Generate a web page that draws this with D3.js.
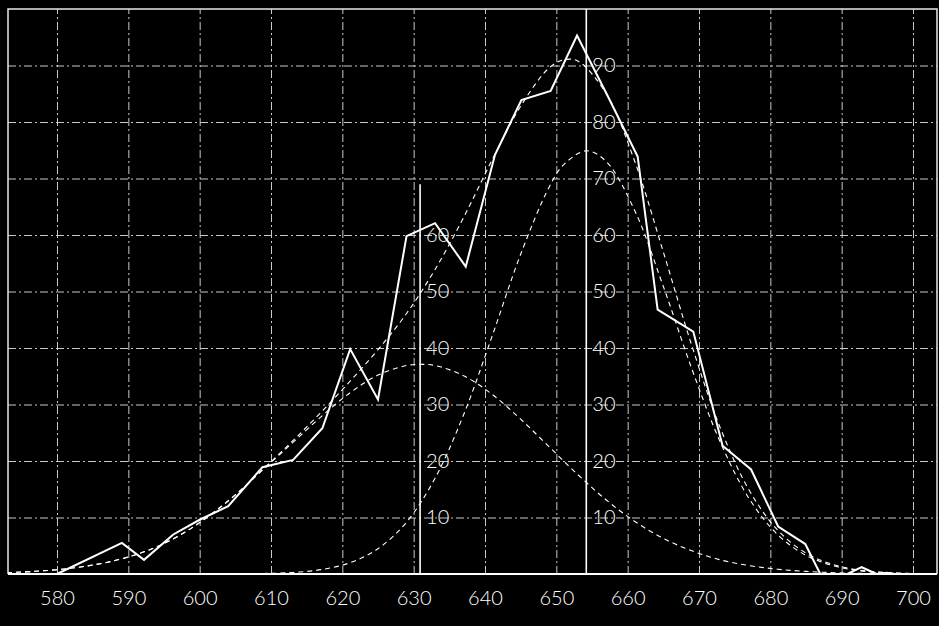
<!DOCTYPE html>
<html>
<head>
<meta charset="utf-8">
<script src="https://cdn.jsdelivr.net/npm/d3@7"></script>
<style>
    body { margin: 0; background: #fff; }
    svg { display: block; }
    .labels text { font-family: Lato, "Open Sans", "DejaVu Sans", sans-serif; font-weight: 300; fill: #fff; }
    .labels .domain { display: none; }
</style>
</head>
<body>
<div id="chart"></div>
<script>
////////// data //////////

var xTicks = [580, 590, 600, 610, 620, 630, 640, 650, 660, 670, 680, 690, 700];
var yGrid = [10, 20, 30, 40, 50, 60, 70, 80, 90];

// observed distribution (solid line)
var observed = [
    [580, 0], [589.1, 5.5], [592.2, 2.5], [596.3, 7.0], [600.0, 9.6], [604.0, 12.0],
    [608.8, 18.9], [613.1, 20.2], [617.2, 25.8], [621.1, 39.8], [625.0, 30.9],
    [629.0, 59.8], [633.0, 62.1], [637.3, 54.4], [641.4, 74.2], [645.1, 83.9],
    [649.2, 85.5], [652.9, 95.3], [657.2, 84.6], [661.4, 73.9], [664.2, 46.8],
    [669.2, 42.9], [673.3, 22.7], [677.3, 18.5], [681.1, 8.4], [684.9, 5.3],
    [687.0, 0], [690.8, 0], [692.8, 1.2], [694.9, 0], [696.3, 0.2], [697.5, 0]
];

// fitted curves (dashed)
var fitTotal = [
    [573, 0.24], [577, 0.48], [581, 0.89], [585, 1.58], [589, 2.66], [593, 4.3],
    [597, 6.7], [601, 10.0], [605, 14.0], [609, 18.7], [613, 23.5], [617, 28.6],
    [621, 34.0], [625, 39.7], [629, 46.1], [633, 53.9], [637, 63.1], [641, 73.3],
    [645, 82.8], [649, 89.6], [651, 91.0], [653, 90.8], [657, 85.0], [661, 73.0],
    [665, 57.0], [669, 40.4], [673, 25.8], [677, 14.9], [681, 7.8], [685, 3.7],
    [689, 1.6], [693, 0.6], [697, 0.2], [701, 0.07]
];
var fitLow = [
    [573, 0.24], [577, 0.48], [581, 0.89], [585, 1.58], [589, 2.66], [593, 4.3],
    [597, 6.7], [601, 10.0], [605, 14.0], [609, 18.6], [613, 23.2], [617, 27.8],
    [621, 32.0], [625, 35.2], [629, 36.9], [631, 37.1], [633, 36.9], [637, 35.1],
    [641, 31.8], [645, 27.4], [649, 22.5], [653, 17.6], [657, 13.1], [661, 9.3],
    [665, 6.3], [669, 4.1], [673, 2.5], [677, 1.5], [681, 0.85], [685, 0.46],
    [689, 0.23], [693, 0.11], [697, 0.05], [701, 0.02]
];
var fitHigh = [
    [605, 0.03], [609, 0.09], [613, 0.27], [617, 0.77], [621, 1.96], [625, 4.47],
    [629, 9.18], [633, 16.96], [637, 28.18], [641, 42.1], [645, 56.6], [649, 68.5],
    [651, 72.4], [654.2, 74.9], [657, 73.0], [661, 64.3], [665, 50.9], [669, 36.3],
    [673, 23.3], [677, 13.4], [681, 7.0], [685, 3.3], [689, 1.4], [693, 0.5],
    [697, 0.18], [701, 0.05]
];

// means of the two components, with their scales
var lowMean = 630.9, lowTop = 69, lowLabels = [10, 20, 30, 40, 50, 60];
var highMean = 654.2, highTop = 100, highLabels = [10, 20, 30, 40, 50, 60, 70, 80, 90];

////////// layout //////////

var width = 945,
    height = 629;

var x = d3.scaleLinear()
    .domain([580, 700])
    .range([57, 913]);

var y = d3.scaleLinear()
    .domain([0, 100])
    .range([574, 9]);

var left = 8, right = 937;

var svg = d3.select("#chart")
    .append("svg")
    .attr("width", width)
    .attr("height", height);

svg.append("rect")
    .attr("width", 939)
    .attr("height", 626)
    .attr("fill", "#000");

svg.append("clipPath")
    .attr("id", "plot-clip")
    .append("rect")
    .attr("x", left)
    .attr("y", y(100))
    .attr("width", right - left)
    .attr("height", y(0) - y(100) + 1);

////////// grid //////////

var grid = svg.append("g")
    .attr("class", "grid")
    .attr("clip-path", "url(#plot-clip)");

grid.append("g")
    .attr("transform", "translate(0," + y(0) + ")")
    .call(d3.axisBottom(x).tickValues(xTicks).tickSize(y(100) - y(0)).tickFormat(""))
    .call(g => g.select(".domain").remove());

grid.append("g")
    .attr("transform", "translate(" + left + ",0)")
    .call(d3.axisLeft(y).tickValues(yGrid).tickSize(left - right).tickFormat(""))
    .call(g => g.select(".domain").remove());

grid.selectAll("line")
    .attr("stroke", "#c8c8c8")
    .attr("stroke-width", 1)
    .attr("stroke-dasharray", "8,3,2,3");

// frame
svg.append("path")
    .attr("d", "M" + left + "," + y(0) + "V" + y(100) + "H" + right + "V" + y(0))
    .attr("fill", "none")
    .attr("stroke", "#e8e8e8")
    .attr("stroke-width", 1.5);

svg.append("line")
    .attr("x1", left)
    .attr("x2", right)
    .attr("y1", y(0))
    .attr("y2", y(0))
    .attr("stroke", "#fff")
    .attr("stroke-width", 2);

////////// mean lines //////////

svg.append("line")
    .attr("x1", x(lowMean)).attr("x2", x(lowMean))
    .attr("y1", y(lowTop)).attr("y2", y(0))
    .attr("stroke", "#fff")
    .attr("stroke-width", 1.6);

svg.append("line")
    .attr("x1", x(highMean)).attr("x2", x(highMean))
    .attr("y1", y(highTop)).attr("y2", y(0))
    .attr("stroke", "#fff")
    .attr("stroke-width", 1.6);

////////// curves //////////

var line = d3.line()
    .x(d => x(d[0]))
    .y(d => y(d[1]));

var curves = svg.append("g")
    .attr("clip-path", "url(#plot-clip)");

[fitTotal, fitLow, fitHigh].forEach(function(fit) {
    curves.append("path")
        .datum(fit)
        .attr("d", line.curve(d3.curveCatmullRom))
        .attr("fill", "none")
        .attr("stroke", "#fff")
        .attr("stroke-width", 1.1)
        .attr("stroke-dasharray", "5,4");
});

curves.append("path")
    .datum(observed)
    .attr("d", line.curve(d3.curveLinear))
    .attr("fill", "none")
    .attr("stroke", "#fff")
    .attr("stroke-width", 2)
    .attr("stroke-linejoin", "miter");

////////// labels //////////

svg.append("g")
    .attr("class", "labels")
    .attr("transform", "translate(0," + y(0) + ")")
    .call(d3.axisBottom(x).tickValues(xTicks).tickSize(0).tickPadding(17))
    .selectAll("text")
    .style("font-size", "20px");

svg.append("g")
    .attr("class", "labels")
    .attr("transform", "translate(" + x(lowMean) + ",0)")
    .call(d3.axisRight(y).tickValues(lowLabels).tickSize(0).tickPadding(6))
    .selectAll("text")
    .style("font-size", "20px");

svg.append("g")
    .attr("class", "labels")
    .attr("transform", "translate(" + x(highMean) + ",0)")
    .call(d3.axisRight(y).tickValues(highLabels).tickSize(0).tickPadding(6))
    .selectAll("text")
    .style("font-size", "20px");

svg.selectAll(".labels line").remove();
</script>
</body>
</html>
